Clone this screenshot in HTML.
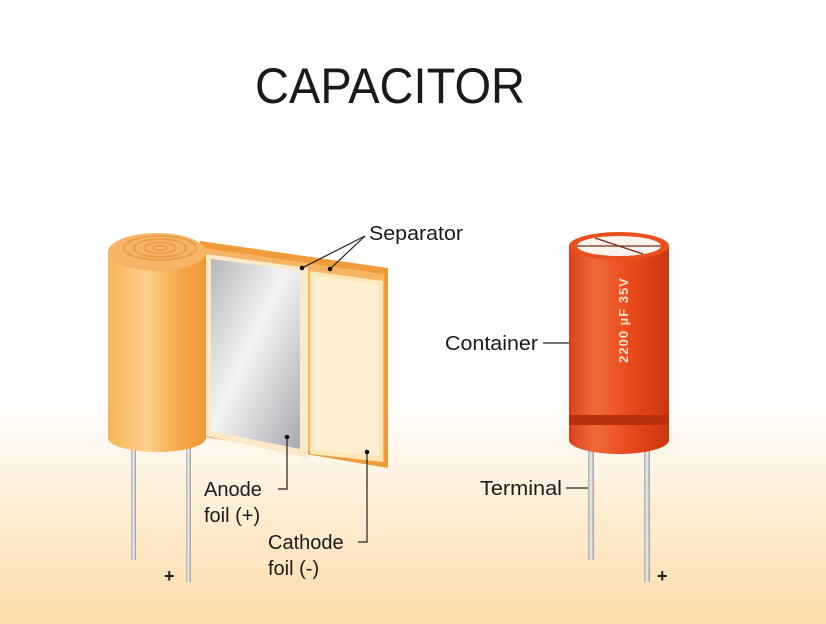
<!DOCTYPE html>
<html><head><meta charset="utf-8"><style>
html,body{margin:0;padding:0;width:826px;height:624px;overflow:hidden;background:#fff}
svg{display:block}
text{font-family:"Liberation Sans",sans-serif;fill:#1a1a1a}
</style></head><body>
<svg width="826" height="624" viewBox="0 0 826 624">
<defs>
<linearGradient id="bg" x1="0" y1="0" x2="0" y2="1">
<stop offset="0" stop-color="#fff"/><stop offset="0.64" stop-color="#fff"/><stop offset="1" stop-color="#fcdca8"/></linearGradient>
<linearGradient id="cyl" x1="0" y1="0" x2="1" y2="0">
<stop offset="0" stop-color="#f7b55a"/><stop offset="0.4" stop-color="#fbd08a"/><stop offset="0.75" stop-color="#f5a445"/><stop offset="1" stop-color="#f29a3a"/></linearGradient>
<linearGradient id="silver" x1="0" y1="0" x2="1" y2="1">
<stop offset="0" stop-color="#b7b7bb"/><stop offset="0.45" stop-color="#f4f4f6"/><stop offset="1" stop-color="#a9a9ae"/></linearGradient>
<linearGradient id="red" x1="0" y1="0" x2="1" y2="0">
<stop offset="0" stop-color="#d9401a"/><stop offset="0.25" stop-color="#f06a3a"/><stop offset="0.6" stop-color="#ea4a1c"/><stop offset="1" stop-color="#c9380f"/></linearGradient>
<linearGradient id="pin" x1="0" y1="0" x2="1" y2="0">
<stop offset="0" stop-color="#aaa"/><stop offset="0.5" stop-color="#eee"/><stop offset="1" stop-color="#999"/></linearGradient>
</defs>
<rect width="826" height="624" fill="url(#bg)"/>
<text x="255" y="103" font-size="50" textLength="270" lengthAdjust="spacingAndGlyphs">CAPACITOR</text>

<rect x="131" y="440" width="5" height="120" fill="url(#pin)"/>
<rect x="186" y="440" width="5" height="142" fill="url(#pin)"/>
<polygon points="200,241 388,268 388,468 200,436" fill="#f19a3a"/>
<polygon points="204,248 384,274 384,462 204,436" fill="#f5b565"/>
<polygon points="206,254 308,268 308,458 206,436" fill="#fbe9c8"/>
<polygon points="211,259 300,271 300,449 211,431" fill="url(#silver)"/>
<polygon points="310,271 383,281 383,462 310,454" fill="#fbe6b8"/>
<polygon points="314,276 379,285 379,456 314,450" fill="#fdf0d2"/>
<path d="M108,252 L108,438 A49,14 0 0 0 206,438 L206,252 Z" fill="url(#cyl)"/>
<ellipse cx="157" cy="252" rx="49" ry="19" fill="#f6b566"/>
<g fill="none" stroke="#e99a42" stroke-width="1.6">
<ellipse cx="160" cy="248" rx="36" ry="12"/><ellipse cx="160" cy="248" rx="26" ry="9"/><ellipse cx="160" cy="248" rx="16" ry="5.5"/><ellipse cx="160" cy="248" rx="7" ry="2.5"/></g>

<g stroke="#222" stroke-width="1.2" fill="none">
<polyline points="365,236 302,268"/><polyline points="365,236 330,269"/>
<polyline points="287,437 287,489 278,489"/>
<polyline points="367,452 367,542 358,542"/>
<polyline points="592,488 566,488"/><polyline points="573,343 543,343"/>
</g>
<g fill="#111"><circle cx="302" cy="268" r="2.3"/><circle cx="330" cy="269" r="2.3"/><circle cx="287" cy="437" r="2.3"/><circle cx="367" cy="452" r="2.3"/><circle cx="592" cy="488" r="2.3"/><circle cx="573" cy="343" r="2.3"/></g>
<text x="369" y="240" font-size="20" textLength="94" lengthAdjust="spacingAndGlyphs">Separator</text>
<text x="204" y="496" font-size="20">Anode</text>
<text x="204" y="522" font-size="20">foil (+)</text>
<text x="268" y="549" font-size="20">Cathode</text>
<text x="268" y="575" font-size="20">foil (-)</text>
<text x="164" y="582" font-size="18" font-weight="bold">+</text>

<rect x="588" y="440" width="6" height="120" fill="url(#pin)"/>
<rect x="644" y="440" width="6" height="142" fill="url(#pin)"/>
<path d="M569,246 L569,440 A50,14 0 0 0 669,440 L669,246 Z" fill="url(#red)"/>
<rect x="569" y="415" width="100" height="10" fill="#b8300c"/>
<ellipse cx="619" cy="246" rx="50" ry="14" fill="#e8501e"/>
<ellipse cx="619" cy="246" rx="42" ry="10" fill="#faf3ee"/>
<g stroke="#7a2a10" stroke-width="1.3"><line x1="577" y1="246" x2="661" y2="246"/><line x1="595" y1="238" x2="643" y2="254"/></g>
<text transform="translate(628,320) rotate(-90)" font-size="13" font-weight="bold" text-anchor="middle" style="fill:#ffe2c8;letter-spacing:1px">2200 µF   35V</text>
<text x="445" y="350" font-size="20" textLength="93" lengthAdjust="spacingAndGlyphs">Container</text>
<text x="480" y="495" font-size="20" textLength="82" lengthAdjust="spacingAndGlyphs">Terminal</text>
<text x="657" y="582" font-size="18" font-weight="bold">+</text>
</svg>
</body></html>
